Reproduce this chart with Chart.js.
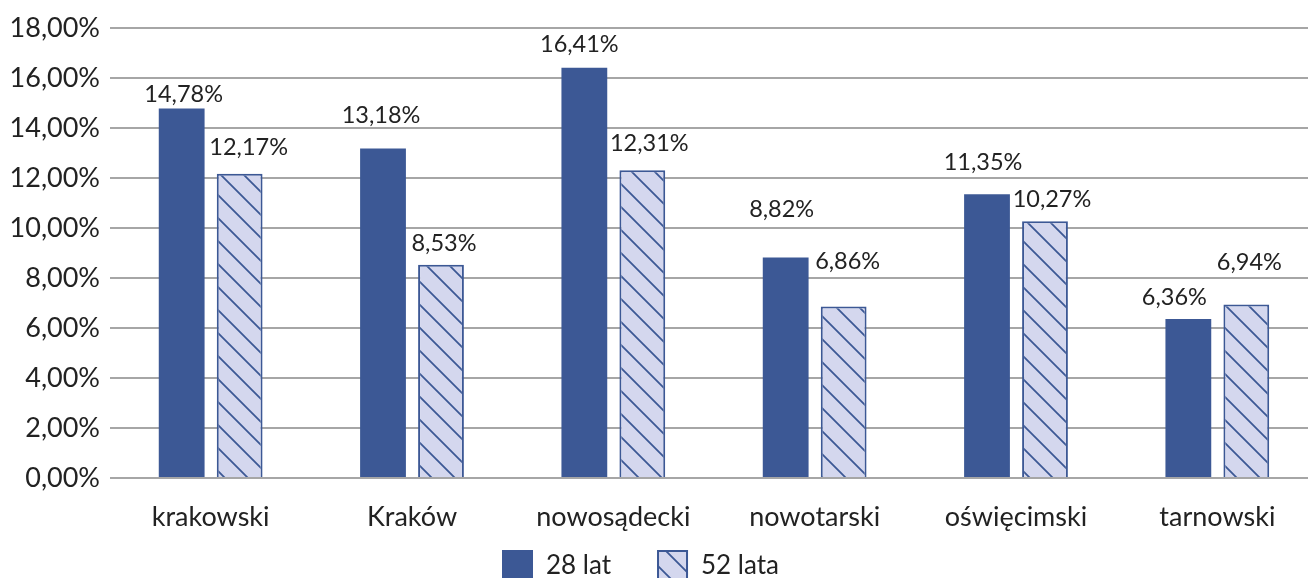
<!DOCTYPE html>
<html lang="pl">
<head>
<meta charset="utf-8">
<title>28 lat / 52 lata</title>
<script src="https://cdn.jsdelivr.net/npm/chart.js@4.4.1/dist/chart.umd.min.js"></script>
<style>
  html, body { margin: 0; padding: 0; background: #fff; overflow: hidden; }
  /* oryginał jest lekko ucięty z prawej, więc płótno jest szersze od okna */
  #wrap { width: 1308px; height: 578px; overflow: hidden; }
</style>
</head>
<body>
<div id="wrap"><canvas id="chart" width="1318" height="578"></canvas></div>
<script>
'use strict';

// dane
const categories = ['krakowski', 'Kraków', 'nowosądecki', 'nowotarski', 'oświęcimski', 'tarnowski'];
const seriesNames = ['28 lat', '52 lata'];
const values28 = [14.78, 13.18, 16.41, 8.82, 11.35, 6.36];
const values52 = [12.17, 8.53, 12.31, 6.86, 10.27, 6.94];
const yMin = 0, yMax = 18, yStep = 2;

const DARK = '#3c5895';
const LIGHT = '#d4d7ee';
const TEXT = '#222222';
const GRID = '#a6a6a6';

// kreskowanie "\" dla drugiej serii
function makeHatch(){
  const s = 23;
  const c = document.createElement('canvas');
  c.width = s; c.height = s;
  const g = c.getContext('2d');
  g.fillStyle = LIGHT;
  g.fillRect(0, 0, s, s);
  g.strokeStyle = DARK;
  g.lineWidth = 1.8;
  g.beginPath();
  g.moveTo(-1, -1); g.lineTo(s + 1, s + 1);
  g.moveTo(-1, s - 1); g.lineTo(1, s + 1);
  g.moveTo(s - 1, -1); g.lineTo(s + 1, 1);
  g.stroke();
  return g.createPattern(c, 'repeat');
}
const hatch = makeHatch();

function pct(v){
  return v.toFixed(2).replace('.', ',') + '%';
}

// etykiety nad słupkami (przesunięcia jak w oryginale)
const barLabels = {
  id: 'barLabels',
  afterDatasetsDraw(chart, args, opts){
    const ctx = chart.ctx;
    ctx.save();
    ctx.font = '23.5px Lato';
    ctx.fillStyle = TEXT;
    ctx.textAlign = 'center';
    ctx.textBaseline = 'middle';
    chart.data.datasets.forEach((ds, di) => {
      const meta = chart.getDatasetMeta(di);
      meta.data.forEach((bar, i) => {
        const n = opts.nudge[di][i];
        ctx.fillText(pct(ds.data[i]), bar.x + n[0], bar.y + n[1]);
      });
    });
    ctx.restore();
  }
};

// legenda pod osią
const bottomLegend = {
  id: 'bottomLegend',
  afterDraw(chart, args, opts){
    const ctx = chart.ctx;
    ctx.save();
    ctx.font = '26px Lato';
    ctx.textBaseline = 'middle';
    ctx.textAlign = 'left';
    let x = opts.x;
    const y = opts.y;
    chart.data.datasets.forEach((ds, di) => {
      ctx.fillStyle = ds.backgroundColor;
      ctx.fillRect(x, y, 31, 31);
      if(ds.borderWidth){
        ctx.strokeStyle = ds.borderColor;
        ctx.lineWidth = 2;
        ctx.strokeRect(x + 1, y + 1, 29, 29);
      }
      ctx.fillStyle = TEXT;
      ctx.fillText(ds.label, x + 44, y + 16);
      x += 44 + ctx.measureText(ds.label).width + 46;
    });
    ctx.restore();
  }
};

new Chart(document.getElementById('chart'), {
  type: 'bar',
  data: {
    labels: categories,
    datasets: [{
      label: seriesNames[0],
      data: values28,
      backgroundColor: DARK,
      borderWidth: 0,
      categoryPercentage: 0.576,
      barPercentage: 0.79
    }, {
      label: seriesNames[1],
      data: values52,
      backgroundColor: hatch,
      borderColor: DARK,
      borderWidth: 2,
      categoryPercentage: 0.576,
      barPercentage: 0.79
    }]
  },
  options: {
    responsive: false,
    animation: false,
    layout: { padding: { top: 28, left: 0, right: 0, bottom: 0 } },
    plugins: {
      legend: { display: false },
      tooltip: { enabled: false },
      barLabels: {
        nudge: [
          [[2, -14], [-2, -33], [-5, -23], [-4, -48], [-4, -32], [-14, -22]],
          [[9, -26], [3, -21], [7, -27], [4, -45], [7, -22], [3, -42]]
        ]
      },
      bottomLegend: { x: 502, y: 550 }
    },
    scales: {
      x: {
        grid: { display: false, drawTicks: false },
        border: { display: false },
        ticks: { color: TEXT, font: { family: 'Lato', size: 27 }, padding: 23, maxRotation: 0, autoSkip: false },
        afterFit(scale){ scale.height = 100; }
      },
      y: {
        min: yMin,
        max: yMax,
        grid: { color: GRID, lineWidth: 2, drawTicks: false },
        border: { display: false },
        ticks: {
          stepSize: yStep,
          color: TEXT,
          font: { family: 'Lato', size: 27 },
          padding: 10,
          callback: (v) => pct(v)
        },
        afterFit(scale){ scale.width = 110; }
      }
    }
  },
  plugins: [barLabels, bottomLegend]
});
</script>
</body>
</html>
